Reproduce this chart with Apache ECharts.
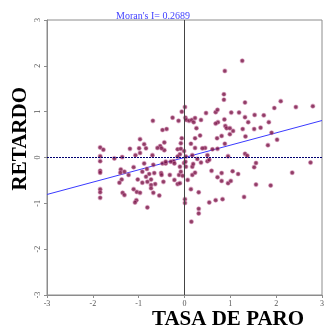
<!DOCTYPE html>
<html>
<head>
<meta charset="utf-8">
<script src="https://cdn.jsdelivr.net/npm/echarts@6/dist/echarts.min.js"></script>
<style>
  html, body { margin: 0; padding: 0; background: #fff; }
  #chart { width: 327px; height: 333px; }
</style>
</head>
<body>
<div id="chart"></div>
<script>
// Moran scatterplot: standardized unemployment rate vs. its spatial lag
const moranI = 0.2689;
const axisTicks = [-3, -2, -1, 0, 1, 2, 3];

// standardized values (z) of TASA DE PARO
const tasaParo = [
  1.26, 0.88, 0.86, 0.86, 1.32, 2.10, 2.80, 2.43, 1.96, 0.68,
  1.02, 1.19, 1.53, 1.73, 1.32, 0.87, 1.39, 1.84, 0.73, 0.68,
  0.89, 0.92, 0.99, 1.06, 1.27, 1.52, 1.66, 0.99, 1.90, 0.81,
  0.71, 1.33, 2.02, 0.88, 1.82, 0.72, 1.32, 1.37, 0.95, 1.56,
  2.75, 1.52, 0.81, 0.72, 1.05, 1.17, 2.35, 0.81, 0.95, 1.01,
  1.56, 1.88, 1.30, 0.68, 0.83,
  -0.24, -0.48, -0.51, -0.46, -0.32, -0.22, -0.15, -0.10, -0.12, -0.08,
  -0.04, 0.03, 0.07, 0.17, 0.23, 0.17, 0.19, 0.36, 0.50, 0.59,
  0.14, 0.31, 0.01, 0.01, -0.55, 0.54, 0.31, 0.31, 0.15, -0.10,
  -0.41, -0.01,
  0.01, -0.06, -0.26, -0.13, 0.02, 0.04, 0.10, 0.16, 0.20, 0.23,
  0.36, 0.47, 0.72, 0.26, -0.39, -0.48, 0.34, 0.23, -0.06, -0.08,
  -0.44, -0.53, 0.14, 0.45, 0.23, 0.39, 0.61, -0.44, -0.15, -0.08,
  -0.01, -0.10, -0.15, 0.03, 0.17, 0.28, 0.50, 0.54, -0.30, -0.22,
  -0.41, 0.02,
  -0.69, -0.97, -0.88, -0.84, -0.99, -0.97, -1.19, -1.07, -0.59, -0.50,
  -1.84, -1.77, -1.84, -1.84, -1.53, -1.36, -0.70, -0.88,
  -1.84, -1.84, -1.84, -1.84, -1.84, -1.39, -1.40, -1.31, -1.22, -1.11,
  -0.68, -0.92, -0.82, -0.77, -0.66, -0.50, -1.02, -0.84, -0.92, -0.81,
  -0.73, -0.64, -0.73, -0.73, -0.68, -1.11, -1.04, -0.97, -1.37, -1.42,
  -1.35, -1.31, -1.05, -1.08, -0.81
];

// spatial lag (W z) of TASA DE PARO
const retardo = [
  2.11, 1.89, 1.38, 1.26, 1.20, 1.23, 1.12, 1.10, 1.08, 0.99,
  0.98, 0.98, 0.93, 0.92, 0.88, 0.83, 0.77, 0.77, 0.77, 0.74,
  0.69, 0.64, 0.64, 0.58, 0.62, 0.62, 0.65, 0.51, 0.54, 0.47,
  0.42, 0.46, 0.39, 0.30, 0.27, 0.19, 0.08, 0.04, 0.03, -0.12,
  -0.11, -0.21, -0.34, -0.43, -0.30, -0.36, -0.33, -0.51, -0.56, -0.51,
  -0.59, -0.61, -0.86, -0.93, -0.91,
  -0.08, -0.13, -0.34, -0.53, -0.38, -0.49, -0.58, -0.56, -0.38, -0.31,
  -0.40, -0.20, -0.49, -0.38, -0.33, -0.20, -0.14, -0.11, -0.08, -0.29,
  -0.69, -0.76, -0.91, -0.99, -0.83, -0.98, -1.12, -1.22, -1.40, -0.20,
  -0.13, -0.12,
  1.10, 1.00, 0.87, 0.80, 0.87, 0.82, 0.80, 0.82, 0.77, 0.86,
  0.82, 0.97, 1.04, 0.64, 0.62, 0.60, 0.48, 0.42, 0.42, 0.31,
  0.33, 0.25, 0.30, 0.21, 0.21, 0.20, 0.18, 0.16, 0.18, 0.19,
  0.14, 0.07, 0.02, 0.02, 0.05, -0.03, 0.05, -0.05, -0.09, -0.13,
  -0.09, -0.09,
  0.80, 0.40, 0.29, 0.20, 0.20, 0.10, 0.19, 0.05, 0.21, 0.20,
  0.22, 0.17, 0.03, -0.08, -0.02, 0.01, 0.05, -0.13,
  -0.29, -0.33, -0.69, -0.76, -0.88, -0.26, -0.33, -0.31, -0.38, -0.21,
  -0.16, -0.31, -0.25, -0.36, -0.34, -0.38, -0.48, -0.42, -0.55, -0.53,
  -0.48, -0.58, -0.60, -0.67, -0.77, -0.69, -0.75, -0.77, -0.48, -0.55,
  -0.77, -0.82, -0.93, -0.98, -1.09
];

const points = tasaParo.map((x, i) => [x, retardo[i]]);
const fitLine = [
  [axisTicks[0], axisTicks[0] * moranI],
  [axisTicks[axisTicks.length - 1], axisTicks[axisTicks.length - 1] * moranI]
];

const serif = '"Liberation Serif", "DejaVu Serif", serif';
const frameColor = '#8c8c8c';

const chart = echarts.init(document.getElementById('chart'), null, { renderer: 'canvas' });

const valueAxis = (isX) => ({
  type: 'value',
  min: axisTicks[0],
  max: axisTicks[axisTicks.length - 1],
  interval: 1,
  axisLine: { show: true, onZero: false, lineStyle: { color: frameColor, width: 1 } },
  axisTick: { show: true, inside: false, length: 3, lineStyle: { color: frameColor } },
  splitLine: { show: false },
  axisLabel: {
    fontFamily: serif,
    fontSize: 8,
    color: '#555',
    margin: isX ? 5 : 5,
    rotate: isX ? 0 : 90
  }
});

chart.setOption({
  animation: false,
  backgroundColor: '#fff',
  title: {
    text: "Moran's I= " + moranI.toFixed(4),
    left: 148,
    top: 6,
    textAlign: 'center',
    textStyle: { fontFamily: serif, fontSize: 10, fontWeight: 'normal', color: '#3f3fff' }
  },
  grid: {
    left: 47, right: 4, top: 20, bottom: 38,
    show: true, borderColor: frameColor, borderWidth: 1
  },
  xAxis: valueAxis(true),
  yAxis: valueAxis(false),
  graphic: [
    {
      type: 'text', left: 152, top: 309,
      style: { text: 'TASA DE PARO', font: 'bold 21px ' + serif, fill: '#000' }
    },
    {
      type: 'text', left: 10, top: 87, rotation: Math.PI / 2,
      originX: 0, originY: 0,
      style: { text: 'RETARDO', font: 'bold 21px ' + serif, fill: '#000' }
    }
  ],
  series: [
    {
      type: 'line',
      data: [],
      silent: true,
      markLine: {
        silent: true,
        symbol: 'none',
        label: { show: false },
        data: [
          { xAxis: 0, lineStyle: { color: '#444', width: 1, type: 'solid' } },
          { yAxis: 0, lineStyle: { color: '#000070', width: 1.2, type: [2, 1] } }
        ]
      }
    },
    {
      type: 'line',
      data: fitLine,
      showSymbol: false,
      silent: true,
      lineStyle: { color: '#3a3aff', width: 1 },
      z: 3
    },
    {
      type: 'scatter',
      data: points,
      symbol: 'circle',
      symbolSize: 4,
      itemStyle: {
        color: '#730c3f',
        borderColor: 'rgba(205,125,170,0.6)',
        borderWidth: 1.2
      },
      z: 4
    }
  ]
});
</script>
</body>
</html>
